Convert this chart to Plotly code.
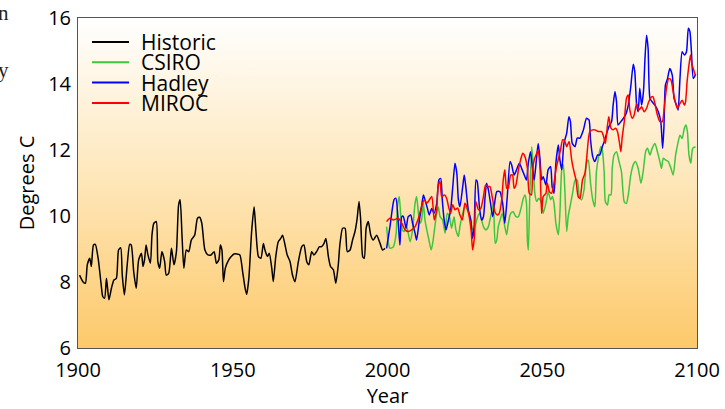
import base64
import plotly.graph_objects as go

# ---------------- data ----------------
hist_years = [1900.5,1901.6,1902.4,1903.0,1903.8,1904.3,1905.0,1905.6,1906.5,1907.5,1908.0,1908.6,1909.2,1910.0,1910.8,
              1911.6,1912.4,1913.1,1913.8,1914.3,1915.0,1915.9,1916.7,1917.2,1918.0,1918.8,1919.6,1920.5,1921.0,1921.5,
              1922.0,1922.6,1923.4,1923.9,1924.5,1925.3,1925.8,1926.4,1927.1,1928.0,1928.5,1929.3,1930.2,1931.0,1931.8,
              1932.5,1933.0,1933.6,1934.2,1935.0,1935.8,1936.6,1937.7,1938.6,1939.3,1940.0,1941.0,1942.0,1943.0,1944.0,
              1944.7,1945.5,1946.0,1946.5,1947.0,1947.6,1948.7,1949.5,1950.4,1951.3,1952.3,1953.2,1954.0,1954.5,1955.2,
              1956.1,1956.9,1957.5,1958.3,1959.1,1959.9,1960.4,1961.2,1961.8,1962.6,1963.1,1963.9,1964.7,1965.5,1966.1,
              1966.9,1967.6,1968.5,1969.3,1970.1,1971.2,1972.3,1973.0,1973.9,1974.6,1975.5,1976.2,1977.1,1978.0,1978.7,
              1979.5,1980.1,1980.9,1981.6,1982.5,1983.3,1984.1,1984.6,1985.5,1986.3,1987.0,1987.9,1988.7,1989.5,1990.2,
              1990.8,1991.3,1992.0,1992.5,1993.1,1993.8,1994.6,1995.4,1996.5,1997.6,1998.4,1999.2]
hist_temp = [8.21,8.01,7.96,8.52,8.72,8.47,9.12,9.14,8.72,7.91,7.56,7.51,8.11,7.46,7.81,
             8.06,8.11,8.97,9.04,8.21,7.61,8.52,9.14,9.12,8.31,7.81,8.67,8.87,8.47,8.67,
             9.12,8.82,8.57,9.42,9.78,9.83,8.62,8.42,8.92,8.62,8.21,8.26,9.02,8.52,8.92,
             10.33,10.49,9.42,8.42,8.97,8.92,9.27,9.42,9.93,9.96,9.78,8.97,8.82,8.82,8.92,
             8.57,8.67,9.12,8.97,8.01,8.42,8.67,8.77,8.85,8.85,8.82,8.31,7.81,7.63,8.11,
             9.53,10.28,9.53,8.77,8.72,9.17,8.97,8.77,8.87,8.42,8.01,8.77,9.22,9.32,9.42,
             9.12,8.82,8.62,8.21,8.01,8.62,9.07,9.12,8.62,8.52,8.92,8.82,8.92,9.07,9.07,
             9.17,9.32,8.77,8.47,8.37,7.96,8.52,9.12,9.63,9.63,8.92,8.97,9.27,9.53,9.93,
             10.44,9.93,8.77,8.72,9.63,9.83,9.42,9.27,9.42,9.17,8.97,9.02]

csiro_years = [1999.7,2000.3,2000.8,2001.9,2002.8,2003.2,2003.8,2004.3,2004.8,2005.4,2006.2,2006.7,2007.3,2008.1,2008.9,
               2009.4,2010.0,2010.5,2011.0,2011.6,2012.1,2012.7,2013.5,2014.1,2014.6,2015.3,2015.9,2016.4,2017.0,2017.8,
               2018.6,2019.3,2020.0,2020.7,2021.5,2022.1,2022.9,2023.4,2024.3,2025.0,2025.8,2026.7,2027.5,2028.3,2028.8,
               2029.7,2030.4,2031.0,2031.8,2032.6,2033.1,2033.6,2034.2,2034.8,2035.3,2035.8,2036.4,2037.1,2037.9,2038.5,
               2039.0,2039.8,2040.6,2041.5,2042.3,2043.0,2043.9,2044.4,2044.9,2045.2,2045.5,2046.0,2046.6,2047.1,2047.6,
               2048.2,2048.9,2049.8,2050.3,2051.2,2051.9,2052.7,2053.3,2053.8,2054.4,2055.2,2055.7,2056.3,2056.8,2057.3,
               2057.9,2058.4,2059.2,2059.8,2060.6,2061.3,2062.0,2062.7,2063.5,2064.3,2064.9,2065.6,2066.3,2067.0,2067.5,
               2068.3,2068.9,2069.4,2070.0,2070.4,2071.1,2071.6,2072.2,2072.6,2073.2,2074.0,2074.8,2075.6,2076.5,2077.2,
               2077.8,2078.6,2079.4,2080.1,2081.0,2081.9,2082.6,2083.4,2084.0,2084.8,2085.5,2086.4,2087.2,2088.0,2088.5,
               2089.1,2089.8,2090.7,2091.6,2092.3,2093.1,2093.7,2094.5,2095.2,2095.9,2096.4,2096.9,2097.4,2098.0,2098.6,
               2099.5]
csiro_temp = [9.68,9.17,9.02,9.07,9.48,10.28,10.59,9.98,9.58,9.53,9.68,9.48,9.22,9.58,10.38,
              10.59,10.08,9.78,9.88,10.38,9.88,9.58,9.22,8.97,9.17,9.68,10.08,10.28,9.98,9.88,
              9.48,10.08,9.98,9.63,9.98,9.58,9.38,9.68,10.08,10.28,10.18,9.98,9.58,9.68,9.88,
              10.08,9.88,9.68,9.58,9.68,9.88,10.10,10.38,9.17,9.27,9.68,9.88,10.08,9.68,9.43,
              9.75,10.08,10.13,9.98,9.98,10.18,10.54,10.64,10.39,9.27,8.97,10.69,12.10,11.50,10.69,
              10.44,10.54,10.39,10.08,10.39,10.74,10.49,10.59,10.39,9.78,9.43,10.08,11.40,11.55,10.79,
              9.53,10.00,10.39,10.69,11.09,11.09,10.59,10.49,10.79,11.60,11.70,11.00,10.50,10.28,11.34,
              11.85,12.10,12.00,11.34,10.43,10.33,10.64,10.64,11.44,11.85,11.95,11.65,11.34,10.43,10.38,
              10.64,11.24,11.55,11.65,11.44,10.99,11.34,11.95,12.05,11.85,12.05,12.20,11.95,11.65,11.44,
              11.75,11.70,11.65,11.44,11.24,11.85,12.15,12.45,12.35,12.66,12.76,12.56,11.85,11.60,12.05,
              12.10]

hadley_years = [1999.7,2000.8,2002.1,2002.7,2003.5,2004.0,2004.6,2005.1,2006.0,2006.7,2007.5,2008.1,2008.9,2009.4,2010.3,
                2011.0,2011.6,2012.1,2012.9,2013.5,2014.3,2015.0,2015.9,2016.6,2017.2,2017.7,2018.3,2018.9,2019.7,2020.4,
                2021.1,2021.8,2022.4,2022.9,2023.4,2024.3,2024.8,2025.3,2026.1,2026.9,2027.5,2028.0,2028.6,2029.0,2029.7,
                2030.4,2031.0,2031.5,2032.0,2032.6,2033.3,2034.0,2035.3,2036.3,2037.2,2037.9,2038.7,2039.6,2040.1,2040.9,
                2041.7,2042.6,2043.3,2044.2,2044.9,2045.5,2046.2,2046.9,2047.4,2048.2,2048.7,2049.3,2049.8,2050.3,2051.2,
                2051.9,2052.7,2053.2,2053.8,2054.4,2055.2,2055.7,2056.3,2057.0,2057.9,2058.6,2059.1,2059.7,2060.6,2061.3,
                2062.2,2063.3,2064.3,2065.1,2065.6,2066.3,2067.0,2067.9,2068.6,2069.4,2070.0,2070.8,2071.5,2072.4,2072.9,
                2073.5,2074.0,2074.5,2075.4,2076.2,2076.9,2077.8,2078.6,2079.4,2079.9,2080.5,2081.0,2081.5,2082.1,2082.7,
                2083.2,2083.7,2084.2,2084.8,2085.5,2086.4,2087.5,2088.3,2088.9,2089.3,2089.8,2090.5,2091.2,2092.0,2092.6,
                2093.4,2093.9,2094.5,2095.2,2095.9,2096.6,2097.2,2097.7,2098.2,2098.8,2099.6]
hadley_temp = [9.02,9.68,10.49,10.54,9.78,9.12,9.98,9.99,9.63,9.98,10.03,9.78,9.48,9.27,9.88,
               10.28,10.64,10.49,10.23,10.03,10.23,10.08,10.38,11.09,11.14,10.49,9.88,9.58,9.88,10.18,
               10.89,11.60,11.29,10.49,10.28,10.89,11.24,10.89,10.18,9.88,9.32,9.68,11.09,11.04,10.28,
               9.88,9.98,10.54,10.99,10.79,10.38,9.98,10.74,10.74,10.39,9.78,10.59,11.65,11.55,11.24,
               11.40,11.60,11.45,11.24,11.09,11.60,11.95,11.40,11.09,11.80,12.20,11.70,11.09,11.19,10.94,
               11.40,11.50,10.89,10.69,11.60,12.15,11.70,11.40,12.20,12.51,13.01,12.86,12.20,12.10,12.36,
               12.36,12.61,12.96,12.91,12.31,11.80,11.65,11.85,11.85,12.10,12.25,12.50,12.70,12.86,13.36,
               13.77,13.46,12.76,12.86,12.96,13.06,13.36,13.92,14.60,14.37,13.36,13.16,13.87,13.36,13.77,
               14.78,15.48,15.08,13.56,13.46,13.36,13.16,12.86,12.05,12.66,13.97,14.17,14.47,14.27,13.56,
               13.36,13.21,14.17,14.98,14.88,14.98,15.69,15.59,14.98,14.17,14.30]

miroc_years = [1999.7,2000.8,2001.9,2003.5,2004.6,2005.7,2006.7,2007.8,2008.9,2010.0,2011.0,2011.9,2012.7,2013.2,2014.3,
               2015.1,2015.9,2016.4,2017.0,2017.5,2018.4,2019.1,2019.7,2020.4,2021.1,2021.8,2022.7,2023.4,2024.2,2025.0,
               2025.6,2026.3,2027.0,2027.5,2028.1,2028.5,2029.4,2030.2,2031.0,2031.7,2032.6,2033.1,2034.0,2034.7,2035.5,
               2036.1,2036.9,2037.4,2037.9,2038.5,2039.0,2039.8,2040.4,2040.9,2041.5,2042.3,2043.0,2043.7,2044.4,2045.2,
               2045.8,2046.5,2046.9,2047.4,2048.2,2048.7,2049.3,2049.8,2050.3,2051.2,2051.6,2052.3,2053.0,2053.6,2054.1,
               2054.6,2055.4,2055.9,2056.6,2057.3,2057.9,2058.7,2059.5,2060.0,2060.9,2061.6,2062.2,2063.0,2063.8,2064.3,
               2064.9,2065.4,2066.3,2067.0,2068.1,2069.2,2069.7,2070.4,2071.1,2071.5,2072.2,2072.9,2073.7,2074.3,2074.9,
               2075.4,2075.8,2076.5,2077.2,2077.8,2078.3,2079.1,2079.7,2080.5,2081.2,2082.1,2082.9,2083.7,2084.4,2085.3,
               2085.8,2086.4,2087.2,2088.0,2088.8,2089.4,2090.2,2090.9,2091.6,2092.3,2093.1,2093.7,2094.5,2095.2,2095.9,
               2096.3,2096.8,2097.4,2097.9,2098.4,2098.8,2099.5]
miroc_temp = [9.83,9.93,9.88,9.93,9.78,9.58,9.53,9.58,9.68,9.93,10.29,10.49,10.39,10.44,10.59,
              9.88,10.19,10.94,11.04,10.59,10.64,10.54,10.29,10.08,10.34,10.19,10.24,10.03,9.88,10.39,
              10.29,10.03,9.58,8.97,9.38,10.44,10.19,10.24,10.59,10.94,10.89,10.89,10.49,10.13,10.03,
              10.08,10.49,11.09,11.40,10.84,10.84,11.24,11.24,10.84,10.94,11.40,11.70,11.90,11.80,11.45,
              10.69,10.64,11.40,11.70,11.90,12.00,11.40,10.08,10.59,10.69,11.00,10.74,10.69,10.89,11.19,
              11.50,11.80,12.00,12.31,12.26,12.10,12.26,11.70,11.45,11.09,10.59,10.54,11.09,11.30,11.70,
              12.31,12.56,12.61,12.61,12.56,12.56,12.45,12.20,12.76,13.01,12.66,12.61,12.66,12.56,12.25,
              11.95,12.36,12.86,13.56,13.67,13.21,12.96,13.06,13.41,13.21,13.31,13.16,13.26,13.46,13.61,
              13.61,13.41,13.06,12.86,12.86,13.26,13.92,14.17,14.12,13.77,13.41,13.26,13.41,13.51,13.36,
              13.46,14.07,14.57,14.88,14.57,14.47,14.25]

series_names = ["Historic", "CSIRO", "Hadley", "MIROC"]
series_colors = ["#000000", "#3dc73d", "#0000ff", "#ff0000"]
x_ticks = [1900, 1950, 2000, 2050, 2100]
y_ticks = [6, 8, 10, 12, 14, 16]

# ---------------- figure ----------------
W, H = 725, 409
ML, MR, MT, MB = 78, 28, 18, 61
PW, PH = W - ML - MR, H - MT - MB

def px(xp):
    return (xp - ML) / PW

def py(yp):
    return (H - MB - yp) / PH

FONT = "Open Sans"
fig = go.Figure()
data = [(hist_years, hist_temp), (csiro_years, csiro_temp),
        (hadley_years, hadley_temp), (miroc_years, miroc_temp)]
for (xs, ys), name, col in zip(data, series_names, series_colors):
    fig.add_trace(go.Scatter(x=xs, y=ys, mode="lines", name=name,
                             line=dict(color=col, width=1.5, shape="spline", smoothing=0.6),
                             showlegend=False))

# gradient background of the plotting area
svg = ('<svg xmlns="http://www.w3.org/2000/svg" width="100" height="100" viewBox="0 0 100 100" '
       'preserveAspectRatio="none"><defs><linearGradient id="g" x1="0" y1="0" x2="0" y2="1">'
       '<stop offset="0" stop-color="#ffffff"/><stop offset="0.5" stop-color="#fee6b8"/>'
       '<stop offset="1" stop-color="#fdc96a"/></linearGradient></defs>'
       '<rect width="100" height="100" fill="url(#g)"/></svg>')
src = "data:image/svg+xml;base64," + base64.b64encode(svg.encode()).decode()
fig.add_layout_image(dict(source=src, xref="paper", yref="paper", x=0, y=1, sizex=1, sizey=1,
                          sizing="stretch", layer="below", xanchor="left", yanchor="top"))

# legend (drawn as annotations + line samples to match the tight row spacing)
shapes = []
annotations = []
for i, (name, col) in enumerate(zip(series_names, series_colors)):
    yy = 42 + i * 20.3
    shapes.append(dict(type="line", xref="paper", yref="paper", x0=px(92), x1=px(129),
                       y0=py(yy), y1=py(yy), line=dict(color=col, width=2)))
    annotations.append(dict(text=name, xref="paper", yref="paper", x=px(139), y=py(yy),
                            xanchor="left", yanchor="middle", showarrow=False,
                            font=dict(family=FONT, size=21, color="#000")))

# stray text fragments at the image's left edge
annotations.append(dict(text="n", xref="paper", yref="paper", x=px(11), y=py(13), xanchor="right",
                        yanchor="middle", showarrow=False,
                        font=dict(family="Liberation Serif", size=21, color="#222")))
annotations.append(dict(text="y", xref="paper", yref="paper", x=px(11), y=py(70), xanchor="right",
                        yanchor="middle", showarrow=False,
                        font=dict(family="Liberation Serif", size=21, color="#222")))

fig.update_layout(
    width=W, height=H,
    margin=dict(l=ML, r=MR, t=MT, b=MB, pad=0, autoexpand=False),
    paper_bgcolor="white", plot_bgcolor="rgba(0,0,0,0)",
    font=dict(family=FONT, size=20, color="#000"),
    shapes=shapes, annotations=annotations,
    showlegend=False,
)
fig.update_xaxes(range=[1900, 2100], tickvals=x_ticks, ticktext=[str(t) for t in x_ticks],
                 showgrid=False, zeroline=False, showline=True, mirror=True, automargin=False,
                 linecolor="#555555", linewidth=1, ticks="", ticklabelstandoff=4,
                 tickfont=dict(family=FONT, size=20),
                 title=dict(text="Year", font=dict(family=FONT, size=20), standoff=2))
fig.update_yaxes(range=[6, 16], tickvals=y_ticks, ticktext=[str(t) for t in y_ticks],
                 showgrid=False, zeroline=False, showline=True, mirror=True, automargin=False,
                 linecolor="#555555", linewidth=1, ticks="", ticklabelstandoff=2,
                 tickfont=dict(family=FONT, size=20),
                 title=dict(text="Degrees C", font=dict(family=FONT, size=20), standoff=8))

fig.write_html("out.html", config={"displayModeBar": False},
               post_script="document.body.style.margin='0';")
